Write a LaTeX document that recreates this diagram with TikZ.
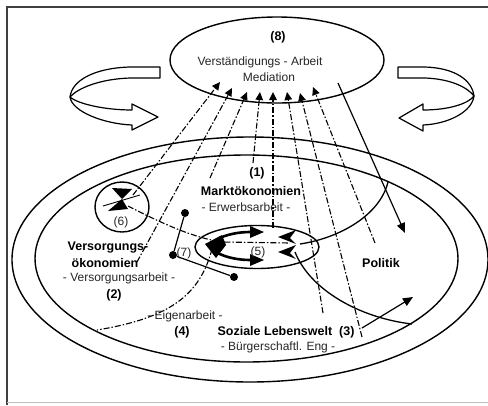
\documentclass[tikz,border=0pt]{standalone}
\usepackage{fontspec}
\setmainfont{Liberation Sans}
\usetikzlibrary{shapes.geometric,arrows.meta}
\begin{document}
\begin{tikzpicture}[x=1pt,y=-1pt,
  reg/.style={font=\fontsize{12}{14}\selectfont, text=black!85, inner sep=0pt},
  bld/.style={font=\fontsize{12.5}{14}\selectfont\bfseries, inner sep=0pt},
  ring/.style={draw, line width=1.4pt, inner sep=0pt},
  dsh/.style={line width=1.1pt, dash pattern=on 6pt off 2pt on 1.5pt off 2pt},
  dsharr/.style={dsh, -{Triangle[length=8pt,width=7.5pt]}},
  solarr/.style={line width=1.2pt, -{Triangle[length=10pt,width=8.5pt]}},
  swirl/.style={draw, fill=white, line width=1.2pt, line join=round},
  dotnode/.style={circle, fill=black, inner sep=0pt, minimum size=8pt},
  thick5/.style={line width=2.6pt},
]
\useasboundingbox (0,0) rectangle (488,405);
% frame
\draw[line width=1.6pt, black!75] (7,405) -- (7,7) -- (488,7);
\draw[line width=0.6pt, black!25] (7,402) -- (488,402);

% big ellipses
\node[ellipse, ring, minimum width=476pt, minimum height=245pt] (outer) at (250,259.5) {};
\node[ellipse, ring, minimum width=423pt, minimum height=207pt] (second) at (246.5,258.5) {};
% top ellipse (8)
\node[ellipse, ring, minimum width=214pt, minimum height=86pt] (top) at (277,60) {};
% circle (6)
\node[ellipse, ring, minimum width=54pt, minimum height=50pt] (c6) at (122,207) {};
% ellipse (5)
\node[ellipse, ring, minimum width=124pt, minimum height=43pt] (e5) at (257,247) {};

% swirl arrows
\path[swirl] (160,67) -- (130,67) .. controls (95,68) and (72,80) .. (70,97)
   .. controls (78,88) and (100,79) .. (130,78) -- (160,78) -- cycle;
\path[swirl] (70,97) .. controls (72,112) and (105,124) .. (132,125)
   -- (132,130) -- (158,117) -- (132,104) -- (132,110)
   .. controls (105,110) and (78,104) .. (70,97) -- cycle;
\path[swirl] (398,67) -- (425,67) .. controls (455,68) and (472,80) .. (474,96)
   .. controls (468,88) and (452,79) .. (425,78) -- (398,78) -- cycle;
\path[swirl] (474,96) .. controls (472,112) and (448,124) .. (423,125)
   -- (423,131) -- (399,118) -- (423,104) -- (423,110)
   .. controls (448,110) and (468,104) .. (474,96) -- cycle;

% coordinates for connectors
\coordinate (t1) at (220,82);  \coordinate (b1) at (133,195);
\coordinate (t2) at (232,88);  \coordinate (b2) at (137,262);
\coordinate (t3) at (247,92);  \coordinate (b3) at (210,178);
\coordinate (t4) at (260,92);  \coordinate (b4) at (253,163);
\coordinate (t5) at (273,92);  \coordinate (b5) at (273,228);
\coordinate (t6) at (287,92);  \coordinate (b6) at (323,313);
\coordinate (t7) at (300,93);  \coordinate (b7) at (362,337);
\coordinate (t8) at (313,87);  \coordinate (b8) at (375,243);
\coordinate (s9) at (338,83);  \coordinate (b9) at (405,233);

\draw[dsharr] (b1) -- (t1);
\draw[dsharr] (b2) -- (t2);
\draw[dsharr] (b3) -- (t3);
\draw[dsharr] (b4) -- (t4);
\draw[dsharr] (b5) -- (t5);
\draw[dsharr] (b6) -- (t6);
\draw[dsharr] (b7) -- (t7);
\draw[dsharr] (b8) -- (t8);
\draw[solarr] (s9) -- (b9);

% Eigenarbeit boundary
\coordinate (e4a) at (212,249);
\coordinate (e4b) at (97,330);
\draw[dsh] (e4a) .. controls (200,295) and (170,318) .. (e4b);

% (6) to (5) link
\coordinate (l6a) at (128,206);
\coordinate (l6b) at (222,242);
\coordinate (l6c) at (290,243);
\draw[dsh] (l6a) .. controls (165,225) and (195,238) .. (l6b) -- (l6c);

% solid boundaries from (5)
\coordinate (p1a) at (300,244);
\coordinate (p1b) at (388,182);
\draw[line width=1.3pt] (p1a) .. controls (340,238) and (380,215) .. (p1b);
\coordinate (p2a) at (295,252);
\coordinate (p2b) at (412,324);
\draw[line width=1.3pt] (p2a) .. controls (310,290) and (360,318) .. (p2b);

% arrow from (3)
\coordinate (a3a) at (362,328);
\coordinate (a3b) at (413,297);
\draw[solarr] (a3a) -- (a3b);

% (7) dots
\node[dotnode] (d1) at (185,213) {};
\node[dotnode] (d2) at (173,255) {};
\node[dotnode] (d3) at (234,277) {};
\draw[line width=1.2pt] (d1) -- (d2) -- (d3);

% inside (6)
\fill (112,188) -- (132,189) -- (122,199) -- cycle;
\fill (122,199) -- (108,211) -- (128,209) -- cycle;
\draw[line width=0.9pt] (103,206) -- (140,195);

% inside (5)
\draw[thick5] (216,240) .. controls (226,234) and (240,232) .. (250,232);
\fill (250,226) -- (264,232) -- (250,238) -- cycle;
\draw[thick5] (216,252) .. controls (226,258) and (240,260) .. (250,260);
\fill (250,254) -- (264,260) -- (250,266) -- cycle;
\fill (205,244) -- (222,235) -- (226,245) -- (216,258) -- cycle;
\fill (278,237) -- (296,230) -- (290,238) -- (296,244) -- cycle;
\fill (278,252) -- (296,245) -- (290,253) -- (296,259) -- cycle;

% texts
\node[bld] (n8) at (278,37) {(8)};
\node[reg] (n8a) at (260,62) {Verständigungs - Arbeit};
\node[reg] (n8b) at (269,77) {Mediation};
\node[bld] (n1) at (257,173) {(1)};
\node[bld] (n1a) at (251,191) {Marktökonomien};
\node[reg] (n1b) at (246,207) {- Erwerbsarbeit -};
\node[reg] (n5) at (258,252) {(5)};
\node[reg] (n6) at (121,222) {(6)};
\node[reg] (n7) at (184,253) {(7)};
\node[bld] (n2a) at (108,248) {Versorgungs-};
\node[bld] (n2b) at (105,263) {ökonomien};
\node[reg] (n2c) at (119,278) {- Versorgungsarbeit -};
\node[bld] (n2) at (114,295) {(2)};
\node[reg] (n4a) at (185,316) {- Eigenarbeit -};
\node[bld] (n4) at (182,332) {(4)};
\node[bld] (n3) at (286,332) {Soziale Lebenswelt\ \ (3)};
\node[reg] (n3b) at (278,347) {- Bürgerschaftl. Eng -};
\node[bld] (np) at (381,263) {Politik};
\end{tikzpicture}
\end{document}
